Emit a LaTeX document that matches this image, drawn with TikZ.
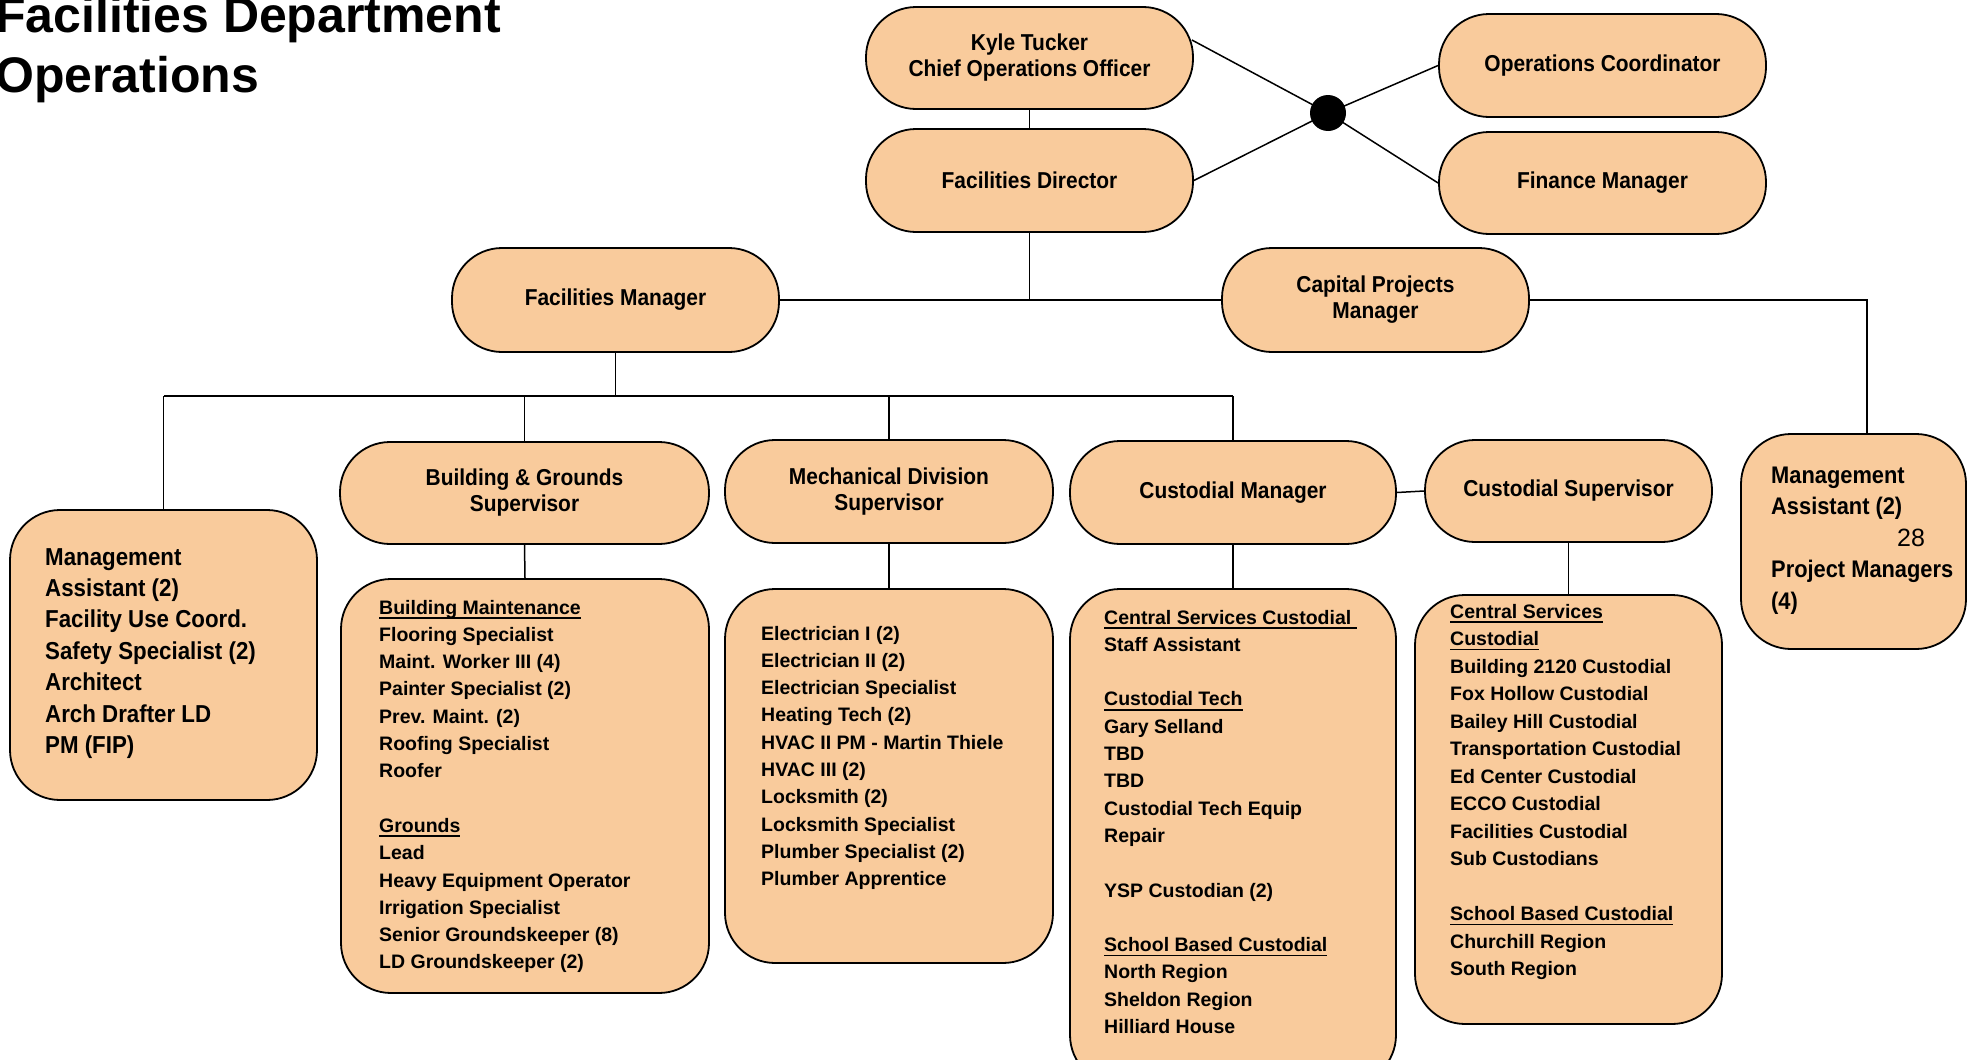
\documentclass[tikz,border=0pt]{standalone}
\usepackage{fontspec}
\setmainfont{Liberation Sans}
\newfontfamily\narrowfont[FakeStretch=0.91]{Liberation Sans}
\newsavebox\ulbox
\newcommand\ulx[1]{\leavevmode\sbox\ulbox{#1}\rlap{\rule[-4.8pt]{\wd\ulbox}{1.8pt}}\usebox\ulbox}
\definecolor{peach}{HTML}{F9CB9C}
\usetikzlibrary{calc}
\newcommand\hdrfont{\narrowfont\bfseries\fontsize{23}{26}\selectfont}
\newcommand\lstfont{\bfseries\fontsize{19.5}{27.3}\selectfont}
\newcommand\mgfont{\narrowfont\bfseries\fontsize{24.5}{31.4}\selectfont}
\begin{document}
\begin{tikzpicture}[x=1pt,y=-1pt,
  box/.style={draw=black, line width=1.8pt, fill=peach, rounded corners=50pt, inner sep=0pt},
  hdr/.style={box, align=center, font=\hdrfont},
  conn/.style={draw=black, line width=1.5pt},
  lst/.style={anchor=base west, inner sep=0pt},
  ttl/.style={anchor=base west, inner sep=0pt, font=\bfseries\fontsize{50}{60}\selectfont}
]
\useasboundingbox (0,0) rectangle (1976,1060);

% title
\node[ttl] (title1) at (-5,32) {Facilities Department};
\node[ttl] (title2) at (-5,92) {Operations};

% header boxes
\node[hdr, minimum width=327pt, minimum height=102pt] (kyle) at (1029.5,58) {Kyle Tucker\\Chief Operations Officer};
\node[hdr, minimum width=327pt, minimum height=103pt] (dir) at (1029.5,180.5) {Facilities Director};
\node[hdr, minimum width=327pt, minimum height=103pt] (ops) at (1602.5,65.5) {Operations Coordinator};
\node[hdr, minimum width=327pt, minimum height=102pt] (fin) at (1602.5,183) {Finance Manager};
\node[hdr, minimum width=327pt, minimum height=104pt] (fm) at (615.5,300) {Facilities Manager};
\node[hdr, minimum width=307pt, minimum height=104pt] (cpm) at (1375.5,300) {Capital Projects\\Manager};
\node[hdr, minimum width=369pt, minimum height=102pt] (bg) at (524.5,493) {Building \& Grounds\\Supervisor};
\node[hdr, minimum width=328pt, minimum height=103pt] (mech) at (889,491.5) {Mechanical Division\\Supervisor};
\node[hdr, minimum width=326pt, minimum height=103pt] (cm) at (1233,492.5) {Custodial Manager};
\node[hdr, minimum width=287pt, minimum height=102pt] (cs) at (1568.5,491) {Custodial Supervisor};

% list boxes
\node[box, minimum width=307pt, minimum height=290pt] (lmg) at (163.5,655) {};
\node[box, minimum width=368pt, minimum height=414pt] (bgl) at (525,786) {};
\node[box, minimum width=328pt, minimum height=374pt] (mechl) at (889,776) {};
\node[box, minimum width=326pt, minimum height=496pt] (cml) at (1233,837) {};
\node[box, minimum width=307pt, minimum height=429pt] (csl) at (1568.5,809.5) {};
\node[box, minimum width=225pt, minimum height=215pt] (rmg) at (1853.5,541.5) {};

% dot
\node[circle, fill=black, minimum size=36pt, inner sep=0pt] (dot) at (1328,113) {};

% connectors top
\draw[conn] (kyle.south) -- (dir.north);
\draw[conn] ($(kyle.east)+(-2,-18)$) -- (dot.center);
\draw[conn] (dir.east) -- (dot.center);
\draw[conn] (dot.center) -- (ops.west);
\draw[conn] (dot.center) -- (fin.west);
\draw[conn] (dir.south) -- (dir.south |- fm.east);
\draw[conn] (fm.east) -- (cpm.west);
\coordinate (rc) at (1867,300);
\draw[conn] (cpm.east) -- (rc) -- (rc |- rmg.north);

% bus
\coordinate (busL) at (164,396);
\coordinate (busR) at (1233,396);
\draw[conn] (busL) -- (busR);
\draw[conn] (fm.south) -- (fm.south |- busL);
\draw[conn] (lmg.north |- busL) -- (lmg.north);
\draw[conn] (bg.north |- busL) -- (bg.north);
\draw[conn] (mech.north |- busL) -- (mech.north);
\draw[conn] (cm.north |- busL) -- (cm.north);
\draw[conn] (bg.south) -- (bgl.north);
\draw[conn] (mech.south) -- (mechl.north);
\draw[conn] (cm.south) -- (cml.north);
\draw[conn] (cs.south) -- (csl.north);
\draw[conn] (cm.east) -- (cs.west);

% list texts
\node[lst] (lmgt) at (45,565) {\parbox[t]{260pt}{\mgfont
Management\\Assistant (2)\\Facility Use Coord.\\Safety Specialist (2)\\Architect\\Arch Drafter LD\\PM (FIP)}};

\node[lst] (bglt) at (379,614) {\parbox[t]{320pt}{\lstfont
\ulx{Building Maintenance}\\Flooring Specialist\\Maint. Worker III (4)\\Painter Specialist (2)\\Prev. Maint. (2)\\Roofing Specialist\\Roofer\\[27.3pt]
\ulx{Grounds}\\Lead\\Heavy Equipment Operator\\Irrigation Specialist\\Senior Groundskeeper (8)\\LD Groundskeeper (2)}};

\node[lst] (mecht) at (761,640) {\parbox[t]{290pt}{\lstfont
Electrician I (2)\\Electrician II (2)\\Electrician Specialist\\Heating Tech (2)\\HVAC II PM - Martin Thiele\\HVAC III (2)\\Locksmith (2)\\Locksmith Specialist\\Plumber Specialist (2)\\Plumber Apprentice}};

\node[lst] (cmt) at (1104,624) {\parbox[t]{290pt}{\lstfont
\ulx{Central Services Custodial\ }\\Staff Assistant\\[27.3pt]
\ulx{Custodial Tech}\\Gary Selland\\TBD\\TBD\\Custodial Tech Equip\\Repair\\[27.3pt]
YSP Custodian (2)\\[27.3pt]
\ulx{School Based Custodial}\\North Region\\Sheldon Region\\Hilliard House}};

\node[lst] (cst) at (1450,618) {\parbox[t]{270pt}{\bfseries\fontsize{19.5}{27.5}\selectfont
\ulx{Central Services}\\\ulx{Custodial}\\Building 2120 Custodial\\Fox Hollow Custodial\\Bailey Hill Custodial\\Transportation Custodial\\Ed Center Custodial\\ECCO Custodial\\Facilities Custodial\\Sub Custodians\\[27.5pt]
\ulx{School Based Custodial}\\Churchill Region\\South Region}};

\node[lst] (rmgt) at (1771,483) {\parbox[t]{200pt}{\narrowfont\bfseries\fontsize{24}{31.5}\selectfont
Management\\Assistant (2)\\\hspace*{126pt}{\normalfont\fontsize{25}{31.5}\selectfont 28}\\Project Managers\\(4)}};
\end{tikzpicture}
\end{document}
